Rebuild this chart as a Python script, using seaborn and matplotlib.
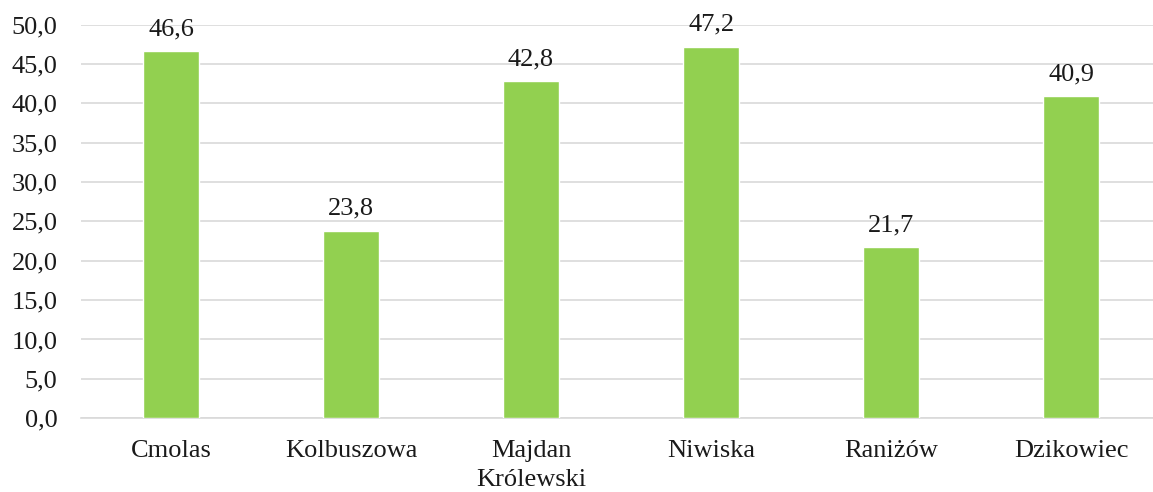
import pandas as pd
import numpy as np
import matplotlib.pyplot as plt
import seaborn as sns

# dane
categories = ["Cmolas", "Kolbuszowa", "Majdan\nKrólewski", "Niwiska", "Raniżów", "Dzikowiec"]
values = [46.6, 23.8, 42.8, 47.2, 21.7, 40.9]
y_ticks = [0, 5, 10, 15, 20, 25, 30, 35, 40, 45, 50]

df = pd.DataFrame({"gmina": categories, "wartosc": values})

sns.set_theme(style="white")
plt.rcParams['font.family'] = ['Liberation Serif', 'DejaVu Serif']

fig = plt.figure(figsize=(11.53, 4.92), dpi=100)
ax = fig.add_axes([0.0703, 0.150, 0.9367, 0.800])

sns.barplot(data=df, x="gmina", y="wartosc", color="#92D050", width=0.31,
            saturation=1, ax=ax, zorder=3)

ax.set_ylim(0, 50)
ax.set_yticks(y_ticks)
ax.set_yticklabels([f"{v:.1f}".replace(".", ",") for v in y_ticks], fontsize=19)
ax.tick_params(axis="x", labelsize=19, length=0, pad=16)
ax.tick_params(axis="y", length=0, pad=17)
ax.yaxis.grid(True, color="#d9d9d9", linewidth=1.2, zorder=0)
ax.set_axisbelow(True)
ax.set_xlabel("")
ax.set_ylabel("")
for s in ["top", "right", "left"]:
    ax.spines[s].set_visible(False)
ax.spines["bottom"].set_color("#d9d9d9")
ax.spines["bottom"].set_linewidth(1.2)

for i, v in enumerate(values):
    ax.annotate(f"{v:.1f}".replace(".", ","), (i, v), xytext=(0, 8),
                textcoords="offset points", ha="center", va="bottom",
                fontsize=19, color="#1a1a1a")

for lbl in ax.get_xticklabels() + ax.get_yticklabels():
    lbl.set_color("#1a1a1a")
    lbl.set_linespacing(1.4)

plt.savefig("out.png", dpi=100)
